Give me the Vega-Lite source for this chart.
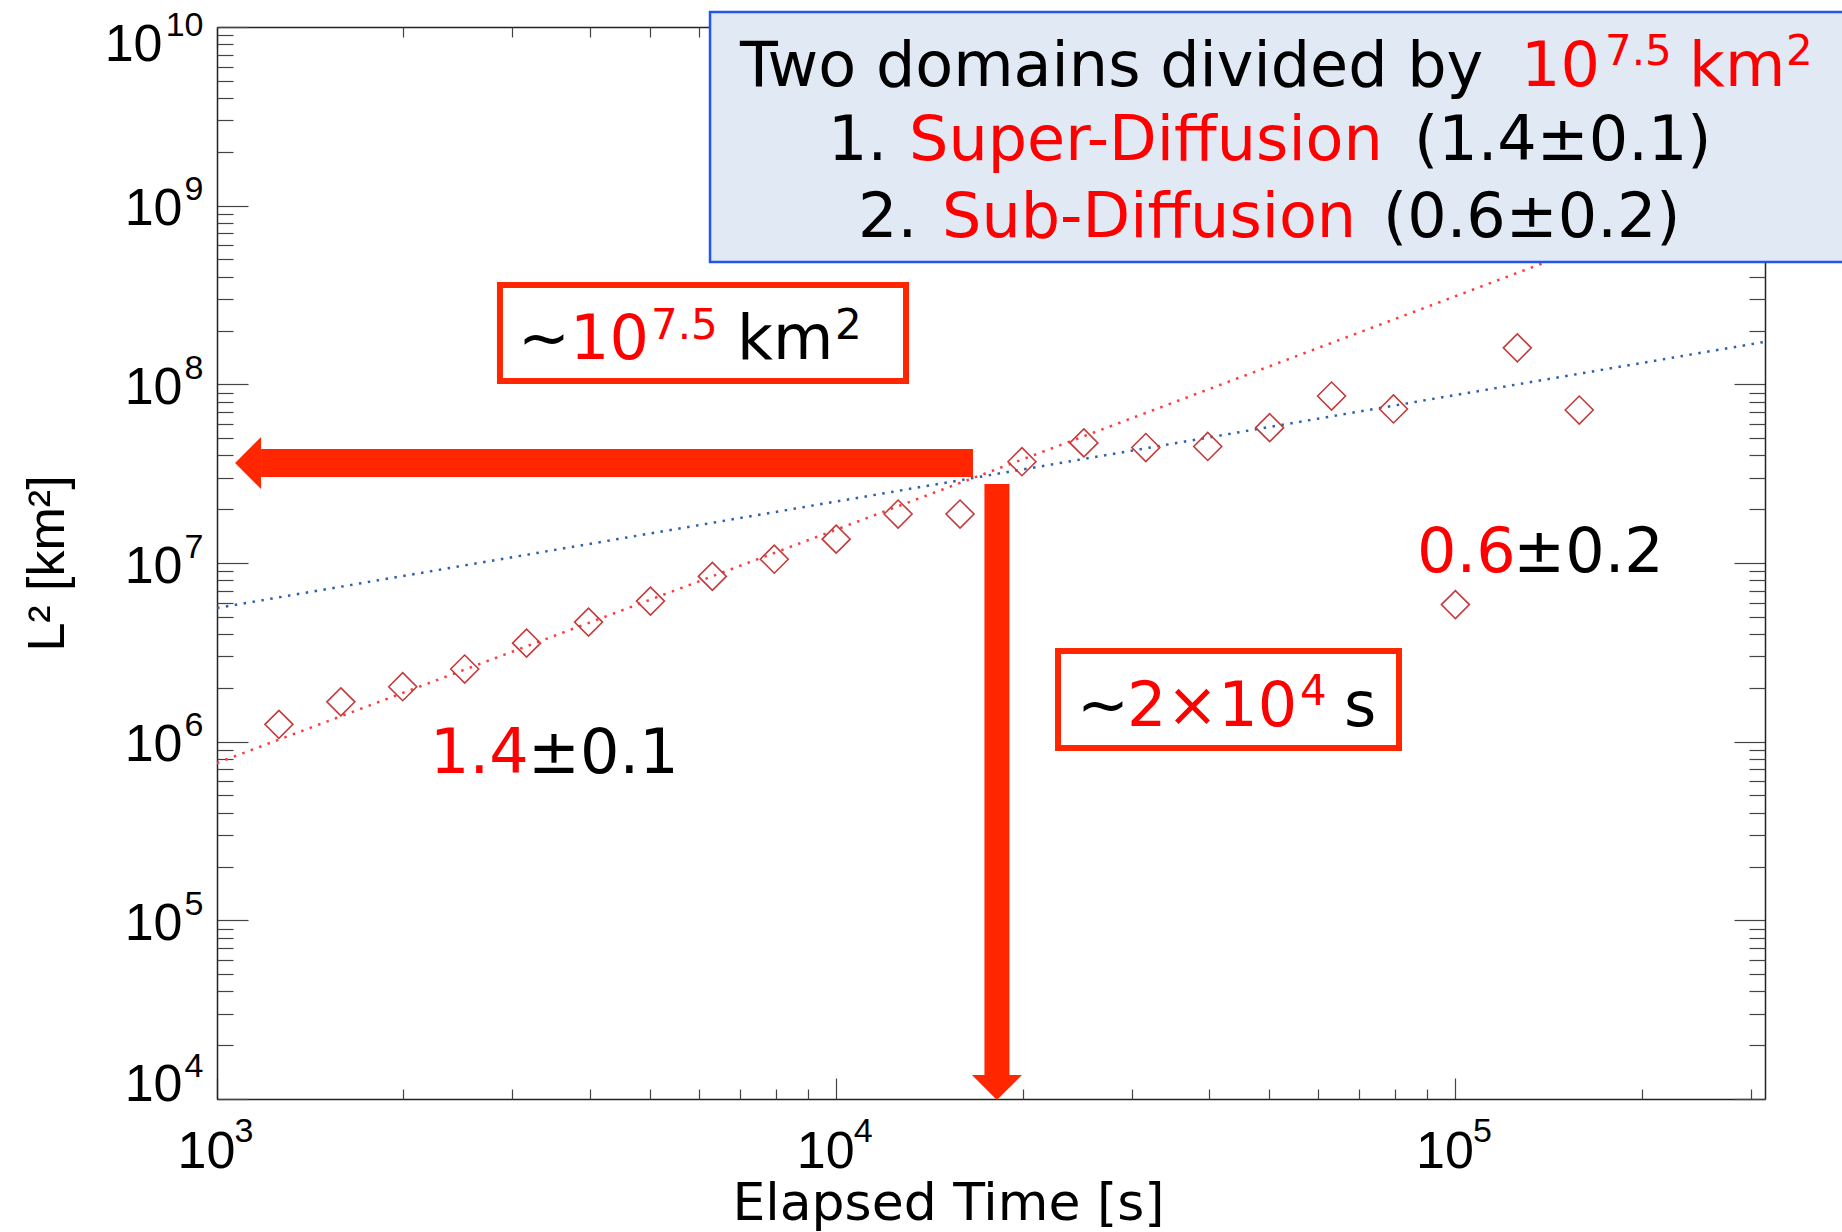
{
  "$schema": "https://vega.github.io/schema/vega-lite/v6.json",
  "width": 1548,
  "height": 1072,
  "autosize": {"type": "none"},
  "padding": {"left": 217, "top": 27, "right": 77, "bottom": 133},
  "background": "white",
  "config": {"view": {"stroke": null}, "axis": {"grid": false}},
  "resolve": {"axis": {"x": "independent", "y": "independent"}},
  "datasets": {
    "obs": [
      {"t": 1259, "L2": 1250000},
      {"t": 1585, "L2": 1670000},
      {"t": 1995, "L2": 2030000},
      {"t": 2512, "L2": 2550000},
      {"t": 3162, "L2": 3560000},
      {"t": 3981, "L2": 4670000},
      {"t": 5012, "L2": 6120000},
      {"t": 6310, "L2": 8410000},
      {"t": 7943, "L2": 10500000},
      {"t": 10000, "L2": 13600000},
      {"t": 12589, "L2": 18800000},
      {"t": 15849, "L2": 18800000},
      {"t": 19953, "L2": 36900000},
      {"t": 25119, "L2": 47000000},
      {"t": 31623, "L2": 44300000},
      {"t": 39811, "L2": 44900000},
      {"t": 50119, "L2": 57200000},
      {"t": 63096, "L2": 86000000},
      {"t": 79433, "L2": 72800000},
      {"t": 100000, "L2": 5850000},
      {"t": 125893, "L2": 160000000},
      {"t": 158489, "L2": 71800000}
    ],
    "redfit": [{"t": 1000, "L2": 760000}, {"t": 316228, "L2": 1400000000}],
    "bluefit": [{"t": 1000, "L2": 5600000}, {"t": 316228, "L2": 173000000}],
    "harrow": [{"t_head": 1178, "t_tail": 16630, "L2": 36280000}],
    "varrow": [{"t": 18180, "L2_head": 13625, "L2_tail": 27680000}],
    "boxes": [
      {"t1": 2864, "t2": 12965, "L2a": 359700000, "L2b": 104400000},
      {"t1": 22817, "t2": 81080, "L2a": 3218000, "L2b": 921800}
    ],
    "notes": [
      {"t": 3063, "L2": 138600000, "text": "~", "hl": "no", "kind": "base"},
      {"t": 3716, "L2": 138600000, "text": "10", "hl": "yes", "kind": "base"},
      {"t": 5022, "L2": 179400000, "text": "7.5", "hl": "yes", "kind": "sup"},
      {"t": 6915, "L2": 138600000, "text": "km", "hl": "no", "kind": "base"},
      {"t": 9956, "L2": 179400000, "text": "2", "hl": "no", "kind": "sup"},
      {"t": 24480, "L2": 1224000, "text": "~", "hl": "no", "kind": "base"},
      {"t": 29480, "L2": 1224000, "text": "2×10", "hl": "yes", "kind": "base"},
      {"t": 56100, "L2": 1604000, "text": "4", "hl": "yes", "kind": "sup"},
      {"t": 66090, "L2": 1224000, "text": "s", "hl": "no", "kind": "base"},
      {"t": 2208, "L2": 667700, "text": "1.4", "hl": "yes", "kind": "base"},
      {"t": 3180, "L2": 667700, "text": "±0.1", "hl": "no", "kind": "base"},
      {"t": 86700, "L2": 8906000, "text": "0.6", "hl": "yes", "kind": "base"},
      {"t": 124000, "L2": 8906000, "text": "±0.2", "hl": "no", "kind": "base"}
    ],
    "legendbox": [{"t1": 6255, "t2": 433800, "L2a": 12130000000, "L2b": 483700000}],
    "legendtext": [
      {"t": 6992, "L2": 4675000000, "text": "Two domains divided by", "hl": "no", "kind": "base"},
      {"t": 127600, "L2": 4675000000, "text": "10", "hl": "yes", "kind": "base"},
      {"t": 174400, "L2": 6128000000, "text": "7.5", "hl": "yes", "kind": "sup"},
      {"t": 238400, "L2": 4675000000, "text": "km", "hl": "yes", "kind": "base"},
      {"t": 341900, "L2": 6128000000, "text": "2", "hl": "yes", "kind": "sup"},
      {"t": 9701, "L2": 1801000000, "text": "1.", "hl": "no", "kind": "base"},
      {"t": 13112, "L2": 1801000000, "text": "Super-Diffusion", "hl": "yes", "kind": "base"},
      {"t": 85730, "L2": 1801000000, "text": "(1.4±0.1)", "hl": "no", "kind": "base"},
      {"t": 10844, "L2": 667600000, "text": "2.", "hl": "no", "kind": "base"},
      {"t": 14823, "L2": 667600000, "text": "Sub-Diffusion", "hl": "yes", "kind": "base"},
      {"t": 76400, "L2": 667600000, "text": "(0.6±0.2)", "hl": "no", "kind": "base"}
    ]
  },
  "layer": [
    {
      "data": {"name": "redfit"},
      "mark": {"type": "line", "color": "#ff3b3b", "strokeWidth": 2.5, "strokeDash": [2.5, 6.5]},
      "encoding": {
        "x": {"field": "t", "type": "quantitative", "scale": {"type": "log", "domain": [1000, 316228], "nice": false},
          "axis": {"orient": "bottom", "values": [1000, 10000, 100000], "tickSize": -21, "tickColor": "#444444", "tickWidth": 1.2,
            "domain": true, "domainColor": "#222222", "domainWidth": 1.5,
            "labelExpr": "'10'", "labelFont": "Liberation Sans", "labelFontSize": 52, "labelColor": "#000000",
            "labelAlign": "center", "labelBaseline": "alphabetic", "labelPadding": 89, "labelOffset": -11,
            "labelFlush": false, "labelOverlap": false, "labelBound": false,
            "title": "Elapsed Time [s]", "titleFont": "DejaVu Sans", "titleFontSize": 52, "titleFontWeight": "normal",
            "titleColor": "#000000", "titleX": 731, "titleY": 120, "titleAlign": "center", "titleBaseline": "alphabetic"}},
        "y": {"field": "L2", "type": "quantitative", "scale": {"type": "log", "domain": [10000, 10000000000], "nice": false},
          "axis": {"orient": "left", "values": [10000, 100000, 1000000, 10000000, 100000000, 1000000000, 10000000000],
            "tickSize": -31, "tickColor": "#444444", "tickWidth": 1.2,
            "domain": true, "domainColor": "#222222", "domainWidth": 1.5,
            "labelExpr": "'10'", "labelFont": "Liberation Sans", "labelFontSize": 52, "labelColor": "#000000",
            "labelAlign": "right", "labelBaseline": "alphabetic",
            "labelPadding": {"condition": {"test": "datum.value >= 1e10", "value": 86}, "value": 66},
            "labelOffset": {"condition": [{"test": "datum.value >= 1e10", "value": 33}, {"test": "datum.value <= 1e4", "value": 1}], "value": 19},
            "labelFlush": false, "labelOverlap": false, "labelBound": false,
            "title": "L² [km²]", "titleFont": "Liberation Sans", "titleFontSize": 52, "titleFontWeight": "normal",
            "titleColor": "#000000", "titleX": -154, "titleY": 536, "titleAngle": 270, "titleAlign": "center", "titleBaseline": "alphabetic"}}
      }
    },
    {
      "data": {"name": "bluefit"},
      "mark": {"type": "line", "color": "#2f5fb0", "strokeWidth": 2.5, "strokeDash": [2.5, 6.5]},
      "encoding": {
        "x": {"field": "t", "type": "quantitative", "scale": {"type": "log", "domain": [1000, 316228], "nice": false},
          "axis": {"orient": "bottom", "values": [1000, 10000, 100000], "ticks": false, "tickSize": 0, "domain": false,
            "labelExpr": "'' + round(log(datum.value) / LN10)", "labelFont": "Liberation Sans", "labelFontSize": 34, "labelColor": "#000000",
            "labelAlign": "left", "labelBaseline": "alphabetic", "labelPadding": 42, "labelOffset": 17,
            "labelFlush": false, "labelOverlap": false, "labelBound": false, "title": null}},
        "y": {"field": "L2", "type": "quantitative", "scale": {"type": "log", "domain": [10000, 10000000000], "nice": false},
          "axis": {"orient": "left", "values": [10000, 100000, 1000000, 10000000, 100000000, 1000000000, 10000000000],
            "ticks": false, "tickSize": 0, "domain": false,
            "labelExpr": "'' + round(log(datum.value) / LN10)", "labelFont": "Liberation Sans", "labelFontSize": 34, "labelColor": "#000000",
            "labelAlign": "right", "labelBaseline": "alphabetic", "labelPadding": 14,
            "labelOffset": {"condition": [{"test": "datum.value >= 1e10", "value": 8}, {"test": "datum.value <= 1e4", "value": -23}], "value": -6},
            "labelFlush": false, "labelOverlap": false, "labelBound": false, "title": null}}
      }
    },
    {
      "data": {"name": "obs"},
      "mark": {"type": "point", "shape": "diamond", "filled": false, "size": 784, "stroke": "#c43a3a", "strokeWidth": 1.6, "opacity": 1},
      "encoding": {
        "x": {"field": "t", "type": "quantitative", "scale": {"type": "log", "domain": [1000, 316228], "nice": false},
          "axis": {"orient": "bottom", "values": [2000, 3000, 4000, 5000, 6000, 7000, 8000, 9000, 20000, 30000, 40000, 50000, 60000, 70000, 80000, 90000, 200000, 300000],
            "tickSize": -10, "tickColor": "#444444", "tickWidth": 1.2, "domain": false, "labels": false, "title": null}},
        "y": {"field": "L2", "type": "quantitative", "scale": {"type": "log", "domain": [10000, 10000000000], "nice": false},
          "axis": {"orient": "left", "values": [20000, 30000, 40000, 50000, 60000, 70000, 80000, 90000, 200000, 300000, 400000, 500000, 600000, 700000, 800000, 900000, 2000000, 3000000, 4000000, 5000000, 6000000, 7000000, 8000000, 9000000, 20000000, 30000000, 40000000, 50000000, 60000000, 70000000, 80000000, 90000000, 200000000, 300000000, 400000000, 500000000, 600000000, 700000000, 800000000, 900000000, 2000000000, 3000000000, 4000000000, 5000000000, 6000000000, 7000000000, 8000000000, 9000000000],
            "tickSize": -16, "tickColor": "#444444", "tickWidth": 1.2, "domain": false, "labels": false, "title": null}}
      }
    },
    {
      "data": {"name": "harrow"},
      "mark": {"type": "rule", "color": "#ff2600", "strokeWidth": 28},
      "encoding": {
        "x": {"field": "t_head", "type": "quantitative", "scale": {"type": "log", "domain": [1000, 316228], "nice": false},
          "axis": {"orient": "top", "values": [1000, 10000, 100000], "tickSize": -21, "tickColor": "#444444", "tickWidth": 1.2,
            "domain": true, "domainColor": "#222222", "domainWidth": 1.5, "labels": false, "title": null}},
        "x2": {"field": "t_tail"},
        "y": {"field": "L2", "type": "quantitative", "scale": {"type": "log", "domain": [10000, 10000000000], "nice": false},
          "axis": {"orient": "right", "values": [10000, 100000, 1000000, 10000000, 100000000, 1000000000, 10000000000],
            "tickSize": -31, "tickColor": "#444444", "tickWidth": 1.2,
            "domain": true, "domainColor": "#222222", "domainWidth": 1.5, "labels": false, "title": null}}
      }
    },
    {
      "data": {"name": "harrow"},
      "mark": {"type": "point", "shape": "M -1 0 L 0 -1 L 0 1 Z", "filled": true, "size": 2704, "color": "#ff2600", "opacity": 1, "strokeWidth": 0},
      "encoding": {
        "x": {"field": "t_head", "type": "quantitative", "scale": {"type": "log", "domain": [1000, 316228], "nice": false}, "axis": null},
        "y": {"field": "L2", "type": "quantitative", "scale": {"type": "log", "domain": [10000, 10000000000], "nice": false}, "axis": null}
      }
    },
    {
      "data": {"name": "varrow"},
      "mark": {"type": "rule", "color": "#ff2600", "strokeWidth": 25},
      "encoding": {
        "x": {"field": "t", "type": "quantitative", "scale": {"type": "log", "domain": [1000, 316228], "nice": false}, "axis": null},
        "y": {"field": "L2_tail", "type": "quantitative", "scale": {"type": "log", "domain": [10000, 10000000000], "nice": false}, "axis": null},
        "y2": {"field": "L2_head"}
      }
    },
    {
      "data": {"name": "varrow"},
      "mark": {"type": "point", "shape": "M 0 1 L -1 0 L 1 0 Z", "filled": true, "size": 2500, "color": "#ff2600", "opacity": 1, "strokeWidth": 0},
      "encoding": {
        "x": {"field": "t", "type": "quantitative", "scale": {"type": "log", "domain": [1000, 316228], "nice": false}, "axis": null},
        "y": {"field": "L2_head", "type": "quantitative", "scale": {"type": "log", "domain": [10000, 10000000000], "nice": false}, "axis": null}
      }
    },
    {
      "data": {"name": "boxes"},
      "mark": {"type": "rect", "fill": "#ffffff", "stroke": "#ff2600", "strokeWidth": 6},
      "encoding": {
        "x": {"field": "t1", "type": "quantitative", "scale": {"type": "log", "domain": [1000, 316228], "nice": false},
          "axis": {"orient": "top", "values": [2000, 3000, 4000, 5000, 6000, 7000, 8000, 9000, 20000, 30000, 40000, 50000, 60000, 70000, 80000, 90000, 200000, 300000],
            "tickSize": -10, "tickColor": "#444444", "tickWidth": 1.2, "domain": false, "labels": false, "title": null}},
        "x2": {"field": "t2"},
        "y": {"field": "L2a", "type": "quantitative", "scale": {"type": "log", "domain": [10000, 10000000000], "nice": false},
          "axis": {"orient": "right", "values": [20000, 30000, 40000, 50000, 60000, 70000, 80000, 90000, 200000, 300000, 400000, 500000, 600000, 700000, 800000, 900000, 2000000, 3000000, 4000000, 5000000, 6000000, 7000000, 8000000, 9000000, 20000000, 30000000, 40000000, 50000000, 60000000, 70000000, 80000000, 90000000, 200000000, 300000000, 400000000, 500000000, 600000000, 700000000, 800000000, 900000000, 2000000000, 3000000000, 4000000000, 5000000000, 6000000000, 7000000000, 8000000000, 9000000000],
            "tickSize": -16, "tickColor": "#444444", "tickWidth": 1.2, "domain": false, "labels": false, "title": null}},
        "y2": {"field": "L2b"}
      }
    },
    {
      "data": {"name": "notes"},
      "mark": {"type": "text", "align": "left", "baseline": "alphabetic", "font": "DejaVu Sans"},
      "encoding": {
        "x": {"field": "t", "type": "quantitative", "scale": {"type": "log", "domain": [1000, 316228], "nice": false}, "axis": null},
        "y": {"field": "L2", "type": "quantitative", "scale": {"type": "log", "domain": [10000, 10000000000], "nice": false}, "axis": null},
        "text": {"field": "text"},
        "color": {"field": "hl", "type": "nominal", "scale": {"domain": ["yes", "no"], "range": ["#ff0000", "#000000"]}, "legend": null},
        "size": {"field": "kind", "type": "ordinal", "scale": {"domain": ["base", "sup"], "range": [62, 42]}, "legend": null}
      }
    },
    {
      "data": {"name": "legendbox"},
      "mark": {"type": "rect", "fill": "#e1e9f4", "stroke": "#2255ee", "strokeWidth": 2.5},
      "encoding": {
        "x": {"field": "t1", "type": "quantitative", "scale": {"type": "log", "domain": [1000, 316228], "nice": false}, "axis": null},
        "x2": {"field": "t2"},
        "y": {"field": "L2a", "type": "quantitative", "scale": {"type": "log", "domain": [10000, 10000000000], "nice": false}, "axis": null},
        "y2": {"field": "L2b"}
      }
    },
    {
      "data": {"name": "legendtext"},
      "mark": {"type": "text", "align": "left", "baseline": "alphabetic", "font": "DejaVu Sans"},
      "encoding": {
        "x": {"field": "t", "type": "quantitative", "scale": {"type": "log", "domain": [1000, 316228], "nice": false}, "axis": null},
        "y": {"field": "L2", "type": "quantitative", "scale": {"type": "log", "domain": [10000, 10000000000], "nice": false}, "axis": null},
        "text": {"field": "text"},
        "color": {"field": "hl", "type": "nominal", "scale": {"domain": ["yes", "no"], "range": ["#ff0000", "#000000"]}, "legend": null},
        "size": {"field": "kind", "type": "ordinal", "scale": {"domain": ["base", "sup"], "range": [62, 42]}, "legend": null}
      }
    }
  ]
}
